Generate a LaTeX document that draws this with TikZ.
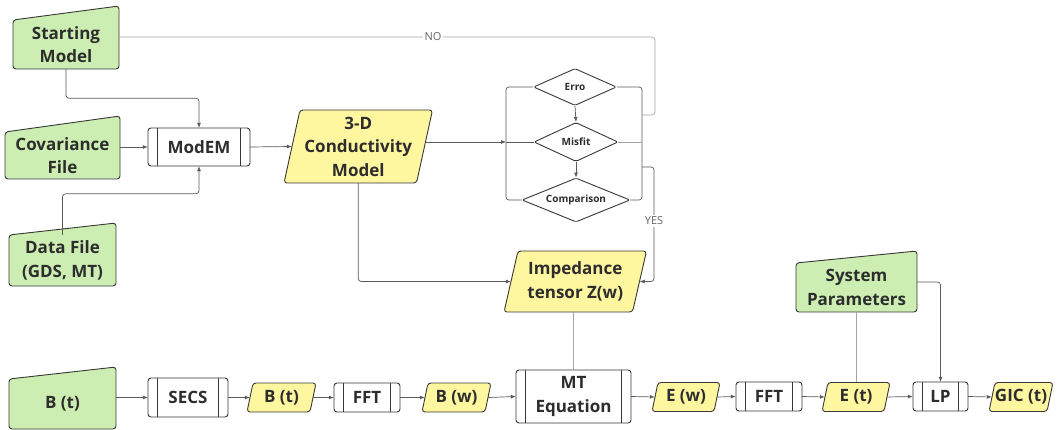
\documentclass[tikz,border=0pt]{standalone}
\usepackage{fontspec}
\setmainfont{Open Sans}
\usetikzlibrary{shapes.geometric,calc,arrows.meta}
\definecolor{gfill}{RGB}{205,238,178}
\definecolor{yfill}{RGB}{255,246,160}
\definecolor{edgec}{RGB}{55,55,55}
\definecolor{txtc}{RGB}{45,45,45}
\definecolor{cline}{RGB}{90,90,90}
\definecolor{clight}{RGB}{165,165,165}
\definecolor{labc}{RGB}{100,100,100}
\tikzset{
 boxtext/.style={inner sep=0pt, text=txtc, font=\bfseries\fontsize{17}{23.5}\selectfont, align=center},
 gshape/.style={draw=edgec, fill=gfill, line width=0.9pt, rounded corners=3pt},
 yshape/.style={draw=edgec, fill=yfill, line width=0.9pt, rounded corners=3pt},
 pshape/.style={draw=edgec, fill=white, line width=0.9pt, rounded corners=3pt},
 innerline/.style={draw=edgec, line width=0.9pt},
 dec/.style={diamond, aspect=2.5, draw=edgec, fill=white, line width=0.9pt, inner sep=0pt, text=txtc, font=\bfseries\fontsize{10}{12}\selectfont, rounded corners=1.5pt},
 conn/.style={draw=cline, line width=0.7pt, rounded corners=3pt},
 arr/.style={conn, -{Latex[length=5pt,width=4pt]}},
 lconn/.style={draw=clight, line width=0.7pt, rounded corners=3pt},
 lab/.style={fill=white, inner sep=1.5pt, text=labc, font=\fontsize{11}{12}\selectfont},
}
\newcommand\MkManIn[7]{%
 \draw[gshape] ({#2-#4/2},{#3+#5/2}) -- ({#2-#4/2},{#3-#5/2}) -- ({#2+#4/2},{#3-#5/2-#6}) -- ({#2+#4/2},{#3+#5/2}) -- cycle;
 \node[boxtext, minimum width=#4pt, minimum height=#5pt] (#1) at (#2,#3) {#7};}
\newcommand\MkPara[7]{%
 \draw[yshape] ({#2-#4/2-#6/2},{#3+#5/2}) -- ({#2-#4/2+#6/2},{#3-#5/2}) -- ({#2+#4/2+#6/2},{#3-#5/2}) -- ({#2+#4/2-#6/2},{#3+#5/2}) -- cycle;
 \node[boxtext, minimum width=#4pt, minimum height=#5pt] (#1) at (#2,#3) {#7};}
\newcommand\MkProc[6]{%
 \draw[pshape] ({#2-#4/2},{#3-#5/2}) rectangle ({#2+#4/2},{#3+#5/2});
 \draw[innerline] ({#2-#4/2+9.5},{#3-#5/2}) -- ({#2-#4/2+9.5},{#3+#5/2}) ({#2+#4/2-9.5},{#3-#5/2}) -- ({#2+#4/2-9.5},{#3+#5/2});
 \node[boxtext, minimum width=#4pt, minimum height=#5pt] (#1) at (#2,#3) {#6};}
\begin{document}
\begin{tikzpicture}[x=1pt,y=-1pt]
\fill[white] (0,0) rectangle (1060,430);
\useasboundingbox (0,0) rectangle (1060,430);

% inputs
\MkManIn{sm}{66}{44.5}{106}{49}{14}{Starting\\Model}
\MkManIn{cov}{62.5}{155.5}{115}{47}{16}{Covariance\\File}
\MkManIn{df}{62.5}{260.5}{107}{51}{12}{Data File\\(GDS, MT)}
\MkManIn{bt}{62.5}{404}{107}{50}{12}{B (t)}
\MkManIn{sp}{856.5}{287.5}{121}{49}{12}{System\\Parameters}

% processes
\MkProc{modem}{199}{147}{102}{38}{ModEM}
\MkProc{secs}{188}{397.5}{80}{39}{SECS}
\MkProc{fftA}{367}{397.5}{66}{29}{FFT}
\MkProc{mt}{573.5}{396.5}{115}{53}{MT\\Equation}
\MkProc{fftB}{769}{396.5}{66}{29}{FFT}
\MkProc{lp}{940.5}{396.5}{55}{29}{LP}

% data
\MkPara{cond}{358.25}{146.5}{132.5}{73}{16}{3-D\\Conductivity\\Model}
\MkPara{imp}{575.25}{281.5}{128.5}{61}{14}{Impedance\\tensor Z(w)}
\MkPara{bty}{281.5}{397.5}{63}{29}{6}{B (t)}
\MkPara{bw}{456.5}{397.5}{63}{29}{6}{B (w)}
\MkPara{ew}{686}{397}{62}{29}{6}{E (w)}
\MkPara{et}{856}{397}{62}{29}{6}{E (t)}
\MkPara{gic}{1021}{397}{58}{29}{6}{GIC (t)}

% decisions
\node[dec, minimum width=83pt, minimum height=37pt] (erro) at (575,87) {Erro};
\node[dec, minimum width=84pt, minimum height=39pt] (mis) at (576,142) {Misfit};
\node[dec, minimum width=108pt, minimum height=44pt] (comp) at (576,200) {Comparison};

% connectors
\draw[arr] (sm.south) -- ++(0,29) -| (modem.north);
\draw[arr] (modem.west -| cov.east) -- (modem.west);
\draw[arr] (df.north) -- ++(0,-41) -| (modem.south);
\draw[arr] (modem.east) -- (cond.west);

\coordinate (LL) at (506,142);
\coordinate (RL) at (642,142);
\draw[arr] (mis.west -| cond.east) -- (LL);
\draw[conn] (LL) -- (mis.west);
\draw[conn] (erro.west) -- (erro.west -| LL) -- (comp.west -| LL) -- (comp.west);
\draw[conn] (erro.east) -- (erro.east -| RL) -- (comp.east -| RL) -- (comp.east);
\draw[lconn] (mis.east) -- (RL);
\draw[arr] (erro.south) -- (mis.north);
\draw[arr] (mis.south) -- (comp.north);

\coordinate (noA) at (642,115);
\coordinate (noB) at (655,37);
\draw[lconn] (noA) -| (noB) -- (sm.east |- noB);
\node[lab] (nolab) at (433,37) {NO};

\coordinate (yesA) at (642,167);
\coordinate (yesB) at (654,167);
\draw[arr] (yesA) -- (yesB) |- (imp.east);
\node[lab] (yeslab) at (654,221) {YES};

\draw[arr] (cond.south) |- (imp.west);
\draw[lconn] (mt.north |- imp.south) -- (mt.north);

\draw[arr] (secs.west -| bt.east) -- (secs.west);
\draw[arr] (secs.east) -- (bty.west);
\draw[arr] (bty.east) -- (fftA.west);
\draw[arr] (fftA.east) -- (bw.west);
\draw[arr] (bw.east) -- (mt.west);
\draw[arr] (mt.east) -- (ew.west);
\draw[arr] (ew.east) -- (fftB.west);
\draw[arr] (fftB.east) -- (et.west);
\draw[arr] (et.east) -- (lp.west);
\draw[arr] (lp.east) -- (gic.west);

\draw[lconn] (et.north |- sp.south) -- (et.north);
\draw[arr] ($(sp.east)+(0,-5.5)$) -| (lp.north);
\end{tikzpicture}
\end{document}
